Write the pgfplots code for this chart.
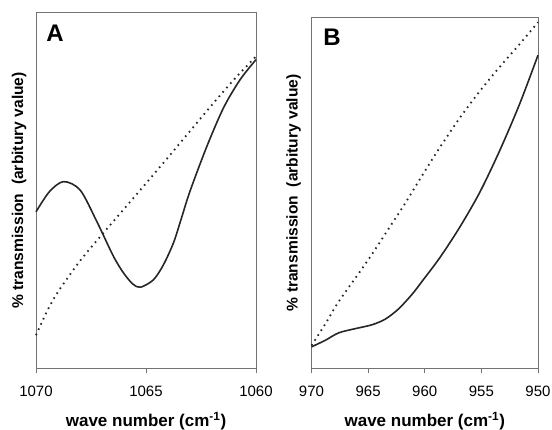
\documentclass[border=0pt]{standalone}
\usepackage{pgfplots}
\pgfplotsset{compat=1.18}
\usepackage{fontspec}
\setmainfont{Liberation Sans}
\begin{document}
\begin{tikzpicture}
\useasboundingbox (0,0) rectangle (552bp,430bp);
\pgfplotsset{
  panel/.style={
    scale only axis,
    ymin=0, ymax=100, ytick=\empty,
    x dir=reverse,
    axis line style={black!55, line width=0.8bp},
    tick align=outside, xtick pos=bottom,
    major tick length=5bp,
    every tick/.style={black!55, line width=0.8bp},
    /pgf/number format/assume math mode=true,
    /pgf/number format/1000 sep={},
    xticklabel style={font=\fontsize{15bp}{18bp}\selectfont, anchor=north, inner sep=0pt, yshift=-12.7bp},
    xlabel={\bfseries wave number (cm\textsuperscript{-1})},
    xlabel style={at={(axis description cs:0.5,0)}, anchor=center, yshift=-52.7bp, inner sep=0pt,
      font=\fontsize{17bp}{20bp}\selectfont},
    ylabel={\bfseries \% transmission\ \ (arbitury value)},
    clip=false,
  },
  solidc/.style={black!85, line width=1.6bp, smooth, no markers},
  dotc/.style={black!85, line width=1.8bp, dash pattern=on 1.6bp off 4.2bp, smooth, no markers},
}
% Panel A
\begin{axis}[panel, at={(36bp,61.7bp)}, width=220bp, height=355.6bp,
  xmin=1060, xmax=1070, xtick={1070,1065,1060},
  ylabel style={at={([xshift=-17bp]axis description cs:0,0.5)}, anchor=center, inner sep=0pt,
      font=\fontsize{15.6bp}{18bp}\selectfont}]
\addplot[solidc] coordinates {
(1070.00,44.0) (1069.40,49.6) (1068.75,52.5) (1067.99,50.1) (1067.23,41.2)
(1066.48,31.5) (1066.02,26.8) (1065.60,23.7) (1065.25,22.8)
(1064.66,24.9) (1064.20,29.2) (1063.75,35.3) (1063.40,42.0) (1063.00,49.8)
(1062.24,62.3) (1061.48,73.2) (1060.73,81.1) (1060.00,86.8)};
\addplot[dotc] coordinates {
(1070,9.3) (1069.5,16.0) (1069,21.5) (1068,30.2) (1067,37.6) (1066,44.8)
(1065,52.0) (1064,59.3) (1063,66.7) (1062,74.1) (1061,81.2) (1060,87.7)};
\node[font=\fontsize{24bp}{28bp}\selectfont\bfseries] at (axis description cs:0.086,0.943) {A};
\end{axis}
% Panel B
\begin{axis}[panel, at={(311.5bp,61.7bp)}, width=226.5bp, height=351bp,
  xmin=950, xmax=970, xtick={970,965,960,955,950},
  ylabel style={at={([xshift=-18bp]axis description cs:0,0.5)}, anchor=center, inner sep=0pt,
      font=\fontsize{15.6bp}{18bp}\selectfont}]
\addplot[solidc] coordinates {
(970.00,6.1) (968.77,8.0) (967.60,10.1) (966.13,11.3) (964.66,12.4)
(963.49,14.0) (962.32,16.9) (961.14,21.0) (960.23,24.8) (958.65,31.6)
(956.89,40.3) (955.13,50.2) (953.37,62.1) (951.61,75.4) (950.00,89.2)};
\addplot[dotc] coordinates {
(970,6.5) (968.77,12.7) (967.60,19.0) (965.84,27.0) (964.66,32.5)
(962.90,41.2) (961.73,47.0) (960.12,55.5) (958.65,63.0) (956.89,71.4)
(955.13,79.0) (953.37,85.9) (951.61,92.4) (950.00,98.6)};
\node[font=\fontsize{24bp}{28bp}\selectfont\bfseries] at (axis description cs:0.0905,0.944) {B};
\end{axis}
\end{tikzpicture}
\end{document}
